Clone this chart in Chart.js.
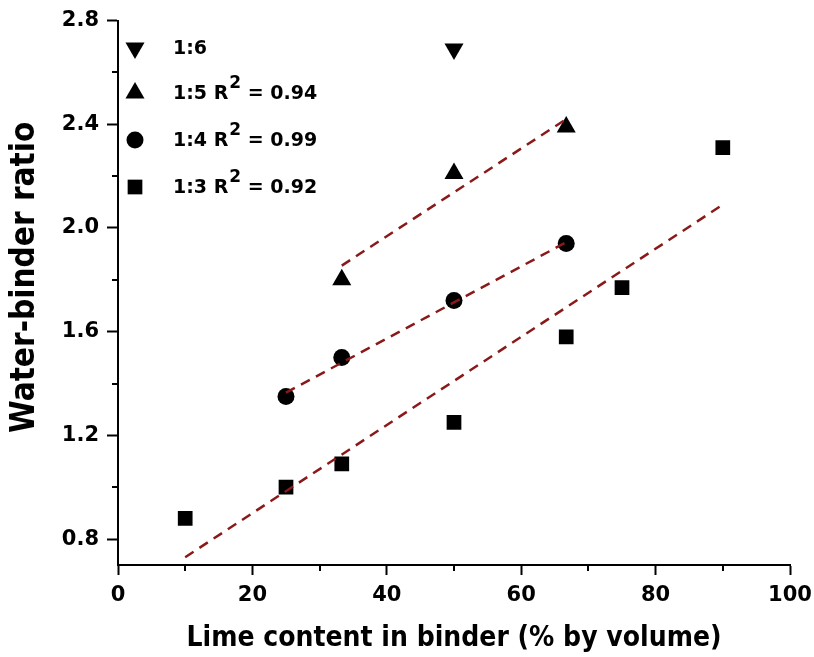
<!DOCTYPE html>
<html>
<head>
<meta charset="utf-8">
<script src="https://cdn.jsdelivr.net/npm/chart.js@4.4.0/dist/chart.umd.min.js"></script>
<style>
html, body { margin: 0; padding: 0; background: #fff; }
#wrap { width: 814px; height: 657px; }
</style>
</head>
<body>
<div id="wrap"><canvas id="mychart" width="814" height="657"></canvas></div>
<script>
// measured points, lime content (% by volume) vs water-binder ratio
const lime13 = [10, 25, 33.3, 50, 66.7, 75, 90];
const wb13 = [0.88, 1.00, 1.09, 1.25, 1.58, 1.77, 2.31];
const lime14 = [25, 33.3, 50, 66.7];
const wb14 = [1.35, 1.50, 1.72, 1.94];
const lime15 = [33.3, 50, 66.7];
const wb15 = [1.80, 2.21, 2.39];
const lime16 = [50];
const wb16 = [2.69];

// fitted lines (end points)
const fit13X = [10, 90];
const fit13Y = [0.73, 2.09];
const fit14X = [25, 66.7];
const fit14Y = [1.365, 1.945];
const fit15X = [33.3, 66.7];
const fit15Y = [1.855, 2.42];

const xTicks = [0, 10, 20, 30, 40, 50, 60, 70, 80, 90, 100];
const xLabels = ['0', '20', '40', '60', '80', '100'];
const yTicks = [0.8, 1.0, 1.2, 1.4, 1.6, 1.8, 2.0, 2.2, 2.4, 2.6, 2.8];
const yLabels = ['0.8', '1.2', '1.6', '2.0', '2.4', '2.8'];

const legendNames = ['1:6', '1:5', '1:4', '1:3'];
const legendR2 = ['', '0.94', '0.99', '0.92'];

const fitColor = '#8a1a1a';
const tickFont = { family: "'DejaVu Sans', Verdana, sans-serif", weight: 'bold', size: 21 };
const narrow = "'Liberation Sans Narrow', 'DejaVu Sans Condensed', 'Arial Narrow', sans-serif";

const pts = (xs, ys) => xs.map((x, i) => ({ x: x, y: ys[i] }));

const fitLine = (xs, ys) => ({
    data: pts(xs, ys),
    showLine: true,
    borderColor: fitColor,
    borderWidth: 2.5,
    borderDash: [10, 7],
    pointRadius: 0,
    order: 0
});

const marker = (xs, ys, style, radius, rot) => ({
    data: pts(xs, ys),
    showLine: false,
    pointStyle: style,
    pointRadius: radius,
    pointRotation: rot || 0,
    pointBackgroundColor: '#000',
    pointBorderColor: '#000',
    pointBorderWidth: 0,
    order: 1
});

// same sizes as the data markers
const legendMarks = [
    { style: 'triangle', r: 11, rot: 180 },
    { style: 'triangle', r: 11, rot: 0 },
    { style: 'circle', r: 8.5, rot: 0 },
    { style: 'rect', r: 10.4, rot: 0 }
];

const minorTicks = {
    id: 'minorTicks',
    afterDraw(chart) {
        const c = chart.ctx;
        const area = chart.chartArea;
        const xs = chart.scales.x, ys = chart.scales.y;
        c.save();
        c.strokeStyle = '#000';
        c.lineWidth = 2;
        xTicks.forEach(v => {
            if (xLabels.includes(String(v))) return;
            const px = Math.round(xs.getPixelForValue(v));
            c.beginPath();
            c.moveTo(px, area.bottom);
            c.lineTo(px, area.bottom + 6);
            c.stroke();
        });
        yTicks.forEach(v => {
            if (yLabels.includes(v.toFixed(1))) return;
            const py = Math.round(ys.getPixelForValue(v));
            c.beginPath();
            c.moveTo(area.left - 6, py);
            c.lineTo(area.left, py);
            c.stroke();
        });
        c.restore();
    }
};

const insideLegend = {
    id: 'insideLegend',
    afterDraw(chart) {
        const c = chart.ctx;
        const markX = 135, textX = 173;
        const rowY = [48, 93, 140, 187];
        c.save();
        c.fillStyle = '#000';
        c.textBaseline = 'middle';
        legendNames.forEach((name, i) => {
            const m = legendMarks[i];
            Chart.helpers.drawPoint(c, { pointStyle: m.style, rotation: m.rot, radius: m.r, borderWidth: 0 }, markX, rowY[i]);
            c.font = 'bold 19px "DejaVu Sans", Verdana, sans-serif';
            let x = textX;
            const head = legendR2[i] ? name + ' R' : name;
            c.fillText(head, x, rowY[i] + 1);
            if (!legendR2[i]) return;
            x += c.measureText(head).width + 1;
            c.font = 'bold 17px "DejaVu Sans", Verdana, sans-serif';
            c.fillText('2', x, rowY[i] - 9);
            x += c.measureText('2').width;
            c.font = 'bold 19px "DejaVu Sans", Verdana, sans-serif';
            c.fillText(' = ' + legendR2[i], x, rowY[i] + 1);
        });
        c.restore();
    }
};

const ctx = document.getElementById('mychart').getContext('2d');
let myChart = new Chart(ctx, {
    type: 'scatter',
    data: {
        datasets: [
            fitLine(fit13X, fit13Y),
            fitLine(fit14X, fit14Y),
            fitLine(fit15X, fit15Y),
            marker(lime13, wb13, 'rect', 10.4),
            marker(lime14, wb14, 'circle', 8.5),
            marker(lime15, wb15, 'triangle', 11),
            marker(lime16, wb16, 'triangle', 11, 180)
        ]
    },
    options: {
        responsive: false,
        animation: false,
        events: [],
        layout: { padding: { left: 0, top: 19, right: 0, bottom: 0 } },
        plugins: { legend: { display: false }, tooltip: { enabled: false } },
        scales: {
            x: {
                type: 'linear',
                min: 0,
                max: 100,
                afterBuildTicks: s => { s.ticks = xTicks.map(v => ({ value: v })); },
                afterFit: s => { s.height = 92; s.paddingRight = 24; s.paddingLeft = 0; },
                border: { color: '#000', width: 2 },
                grid: {
                    drawOnChartArea: false,
                    tickLength: 10,
                    tickWidth: 2,
                    tickColor: c => xLabels.includes(String(c.tick.value)) ? '#000' : 'rgba(0,0,0,0)'
                },
                ticks: {
                    color: '#000',
                    font: tickFont,
                    padding: 8,
                    maxRotation: 0,
                    autoSkip: false,
                    callback: v => xLabels.includes(String(v)) ? String(v) : ''
                },
                title: {
                    display: true,
                    text: 'Lime content in binder (% by volume)',
                    color: '#000',
                    font: { family: narrow, weight: 'bold', size: 28 },
                    padding: { top: 0, bottom: 1 }
                }
            },
            y: {
                type: 'linear',
                min: 0.7,
                max: 2.8,
                afterBuildTicks: s => { s.ticks = yTicks.map(v => ({ value: v })); },
                afterFit: s => { s.width = 118; },
                border: { color: '#000', width: 2 },
                grid: {
                    drawOnChartArea: false,
                    tickLength: 11,
                    tickWidth: 2,
                    tickColor: c => yLabels.includes(c.tick.value.toFixed(1)) ? '#000' : 'rgba(0,0,0,0)'
                },
                ticks: {
                    color: '#000',
                    font: tickFont,
                    padding: 8,
                    autoSkip: false,
                    callback: v => yLabels.includes(v.toFixed(1)) ? v.toFixed(1) : ''
                },
                title: {
                    display: true,
                    // leading spaces nudge the centred title upward like the original
                    text: '   Water-binder ratio',
                    color: '#000',
                    font: { family: narrow, weight: 'bold', size: 33 },
                    padding: { top: 6, bottom: 0 }
                }
            }
        }
    },
    plugins: [minorTicks, insideLegend]
});
</script>
</body>
</html>
